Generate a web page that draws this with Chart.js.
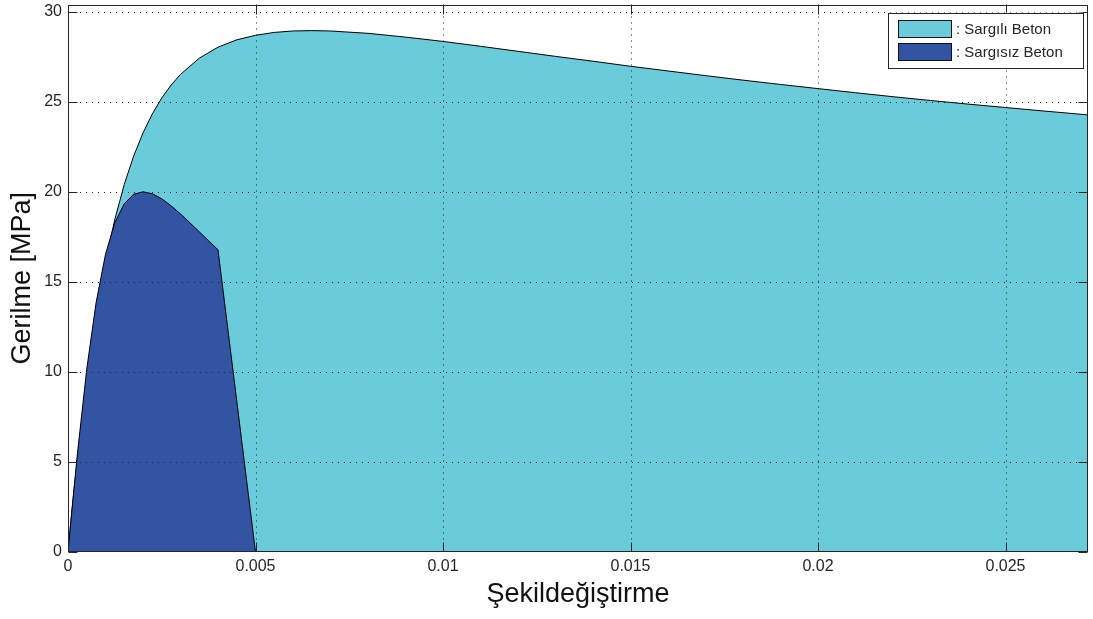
<!DOCTYPE html>
<html>
<head>
<meta charset="utf-8">
<script src="https://cdn.jsdelivr.net/npm/chart.js@4.4.1/dist/chart.umd.min.js"></script>
<style>
  html, body { margin: 0; padding: 0; background: #fff; }
  #wrap { width: 1093px; height: 619px; }
</style>
</head>
<body>
<div id="wrap"><canvas id="myChart" width="1093" height="619"></canvas></div>
<script>
// confined concrete (Sargılı Beton)
const strainSargili = [0, 0.0001, 0.00025, 0.0005, 0.00075, 0.001, 0.00125, 0.0015, 0.00175, 0.002,
  0.00225, 0.0025, 0.00275, 0.003, 0.0035, 0.004, 0.0045, 0.005, 0.0055, 0.006, 0.0065, 0.007,
  0.008, 0.009, 0.010, 0.011, 0.012, 0.013, 0.014, 0.015, 0.016, 0.017, 0.018, 0.019, 0.020,
  0.021, 0.022, 0.023, 0.024, 0.025, 0.026, 0.0272];
const stressSargili = [0, 2.19, 5.23, 9.61, 13.20, 16.11, 18.48, 20.41, 21.98, 23.27,
  24.33, 25.21, 25.93, 26.52, 27.42, 28.03, 28.44, 28.69, 28.85, 28.93, 28.95, 28.93,
  28.80, 28.59, 28.35, 28.08, 27.80, 27.52, 27.25, 26.97, 26.71, 26.45, 26.20, 25.96, 25.73,
  25.50, 25.28, 25.07, 24.87, 24.68, 24.49, 24.27];

// unconfined concrete (Sargısız Beton)
const strainSargisiz = [0, 0.000125, 0.00025, 0.0005, 0.00075, 0.001, 0.00125, 0.0015, 0.00175, 0.002,
  0.00225, 0.0025, 0.00275, 0.003, 0.00325, 0.0035, 0.00375, 0.004, 0.005];
const stressSargisiz = [0, 2.77, 5.43, 10.16, 13.86, 16.53, 18.29, 19.34, 19.86, 20.00,
  19.89, 19.61, 19.22, 18.77, 18.28, 17.78, 17.28, 16.78, 0];

const xTicks = [0, 0.005, 0.01, 0.015, 0.02, 0.025];
const yTicks = [0, 5, 10, 15, 20, 25, 30];
const xMax = 0.0272;
const yMax = 30.4;

const toPoints = (xs, ys) => xs.map((x, i) => ({ x: x, y: ys[i] }));

const FONT = 'Liberation Sans, Arial, Helvetica, sans-serif';
const INK = '#262626';

// grid, inward ticks and box drawn on top of the filled areas
const axesFrame = {
  id: 'axesFrame',
  afterDatasetsDraw(chart) {
    const { ctx, chartArea: a, scales } = chart;
    const xs = scales.x, ys = scales.y;
    ctx.save();
    ctx.lineWidth = 1;
    ctx.strokeStyle = '#222';
    ctx.setLineDash([1, 5]);
    xs.ticks.forEach(t => {
      const px = Math.round(xs.getPixelForValue(t.value)) + 0.5;
      if (px <= a.left + 1 || px >= a.right - 1) return;
      ctx.beginPath(); ctx.moveTo(px, a.top); ctx.lineTo(px, a.bottom); ctx.stroke();
    });
    ys.ticks.forEach(t => {
      const py = Math.round(ys.getPixelForValue(t.value)) + 0.5;
      if (py <= a.top + 1 || py >= a.bottom - 1) return;
      ctx.beginPath(); ctx.moveTo(a.left, py); ctx.lineTo(a.right, py); ctx.stroke();
    });
    ctx.setLineDash([]);
    ctx.strokeStyle = INK;
    const L = Math.round(a.left) + 0.5, R = Math.round(a.right) - 0.5;
    const T = Math.round(a.top) + 0.5, B = Math.round(a.bottom) - 0.5;
    ctx.strokeRect(L, T, R - L, B - T);
    const tl = 9;
    ctx.beginPath();
    xs.ticks.forEach(t => {
      const px = Math.round(xs.getPixelForValue(t.value)) + 0.5;
      ctx.moveTo(px, B); ctx.lineTo(px, B - tl);
      ctx.moveTo(px, T); ctx.lineTo(px, T + tl);
    });
    ys.ticks.forEach(t => {
      const py = Math.round(ys.getPixelForValue(t.value)) + 0.5;
      ctx.moveTo(L, py); ctx.lineTo(L + tl, py);
      ctx.moveTo(R, py); ctx.lineTo(R - tl, py);
    });
    ctx.stroke();
    ctx.restore();
  }
};

// boxed legend in the upper right corner
const boxLegend = {
  id: 'boxLegend',
  afterDraw(chart) {
    const { ctx, chartArea: a } = chart;
    const items = chart.data.datasets.slice().reverse();
    const w = 195, h = 55;
    const x0 = a.right - 5 - w, y0 = a.top + 8;
    ctx.save();
    ctx.fillStyle = '#fff';
    ctx.fillRect(x0, y0, w, h);
    ctx.strokeStyle = INK;
    ctx.lineWidth = 1;
    ctx.strokeRect(Math.round(x0) + 0.5, Math.round(y0) + 0.5, w, h);
    ctx.font = '15px ' + FONT;
    ctx.textBaseline = 'middle';
    items.forEach((ds, i) => {
      const sy = Math.round(y0) + 7 + i * 23;
      ctx.fillStyle = ds.backgroundColor;
      ctx.fillRect(Math.round(x0) + 10, sy, 54, 17);
      ctx.strokeStyle = '#111';
      ctx.strokeRect(Math.round(x0) + 10.5, sy + 0.5, 53, 17);
      ctx.fillStyle = INK;
      ctx.fillText(': ' + ds.label, Math.round(x0) + 68, sy + 9.5);
    });
    ctx.restore();
  }
};

const ctx = document.getElementById('myChart');
new Chart(ctx, {
  type: 'line',
  data: {
    datasets: [
      {
        label: 'Sargısız Beton',
        data: toPoints(strainSargisiz, stressSargisiz),
        backgroundColor: '#3353A3',
        borderColor: '#000',
        borderWidth: 1,
        fill: 'origin',
        pointRadius: 0,
        tension: 0
      },
      {
        label: 'Sargılı Beton',
        data: toPoints(strainSargili, stressSargili),
        backgroundColor: '#6ACCDB',
        borderColor: '#000',
        borderWidth: 1,
        fill: 'origin',
        pointRadius: 0,
        tension: 0
      }
    ]
  },
  options: {
    responsive: false,
    animation: false,
    events: [],
    layout: { autoPadding: false, padding: { top: 4.5, right: 5, left: 0, bottom: 0 } },
    plugins: { legend: { display: false }, tooltip: { enabled: false } },
    scales: {
      x: {
        type: 'linear',
        min: 0,
        max: xMax,
        afterBuildTicks: s => { s.ticks = xTicks.map(v => ({ value: v })); },
        afterFit: s => { s.height = 67; s.paddingLeft = 0; s.paddingRight = 0; },
        grid: { display: false, drawTicks: false },
        border: { display: false },
        ticks: {
          padding: 5,
          color: INK,
          font: { family: FONT, size: 16 },
          maxRotation: 0,
          callback: v => String(v)
        },
        title: {
          display: true,
          text: 'Şekildeğiştirme',
          color: '#111',
          font: { family: FONT, size: 27 },
          padding: { top: 0, bottom: 8 }
        }
      },
      y: {
        type: 'linear',
        min: 0,
        max: yMax,
        afterBuildTicks: s => { s.ticks = yTicks.map(v => ({ value: v })); },
        afterFit: s => { s.width = 68; s.paddingTop = 0; s.paddingBottom = 0; },
        grid: { display: false, drawTicks: false },
        border: { display: false },
        ticks: {
          padding: 6,
          color: INK,
          font: { family: FONT, size: 16 },
          callback: v => String(v)
        },
        title: {
          display: true,
          text: 'Gerilme [MPa]',
          color: '#111',
          font: { family: FONT, size: 27 },
          padding: { top: 6, bottom: 0 }
        }
      }
    }
  },
  plugins: [axesFrame, boxLegend]
});
</script>
</body>
</html>
